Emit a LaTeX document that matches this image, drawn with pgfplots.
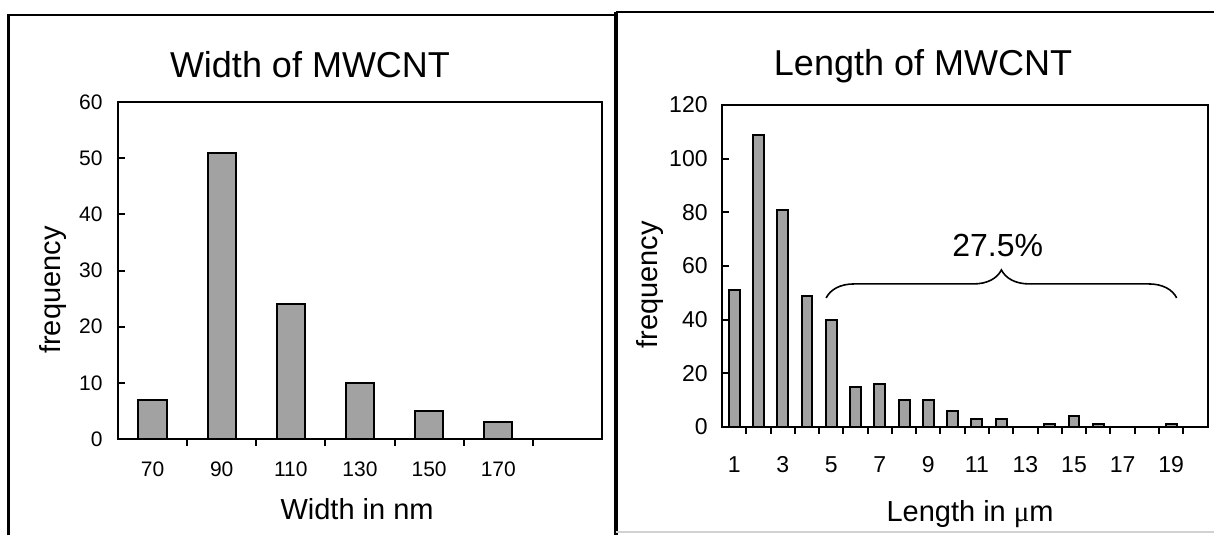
\documentclass[border=0pt]{standalone}
\usepackage{fontspec}
\setmainfont{Liberation Sans}
\newfontfamily\symfont{Liberation Serif}
\usepackage{pgfplots}
\pgfplotsset{compat=1.18}
\usetikzlibrary{decorations.pathreplacing}
\definecolor{barfill}{HTML}{A2A2A2}

\pgfplotsset{
  mwcnt/.style={
    scale only axis,
    anchor=south west,
    axis line style={line width=1pt},
    tick align=inside,
    xtick pos=bottom, ytick pos=left,
    tick style={line width=1pt, black},
    major tick length=3.3pt,
    ymin=0,
    /pgf/number format/assume math mode=true,
    ybar,
    ylabel style={anchor=center},
    xlabel style={anchor=base},
    yticklabel style={anchor=east, inner sep=0pt},
    xticklabel style={anchor=base, inner sep=0pt},
    extra x tick style={major tick length=0pt},
    label style={font=\fontsize{14.5}{16}\selectfont},
  },
  bars/.style={draw=black, line width=1pt, fill=barfill},
}

\begin{document}
\begin{tikzpicture}
\path[use as bounding box] (0,0) rectangle (607pt,267.5pt);

% panel frames
\draw[line width=1.3pt] (4.25pt,0) -- (4.25pt,260pt) -- (308pt,260pt);
\draw[line width=2.2pt] (308pt,0) -- (308pt,261.5pt);
\draw[line width=1.3pt] (308pt,261.5pt) -- (607pt,261.5pt);
\draw[gray!35, line width=0.6pt] (308pt,1.5pt) -- (607pt,1.5pt);

\node[anchor=base, font=\fontsize{18}{21}\selectfont] at (155pt,228.5pt) {Width of MWCNT};
\node[anchor=base, font=\fontsize{18}{21}\selectfont] at (461.5pt,229.5pt) {Length of MWCNT};

% width histogram
\begin{axis}[mwcnt, at={(59pt,48pt)}, width=242pt, height=168.5pt,
  xmin=-0.5, xmax=6.5, ymax=60, ytick={0,10,...,60},
  xtick={0.5,1.5,...,5.5}, xticklabels={},
  extra x ticks={0,1,2,3,4,5},
  extra x tick labels={70,90,110,130,150,170},
  tick label style={font=\fontsize{10.5}{12}\selectfont},
  xticklabel style={yshift=-18.5pt},
  yticklabel style={xshift=-7.5pt},
  bar width=0.41,
  xlabel={Width in nm}, ylabel={frequency},
  xlabel style={at={(axis description cs:0.494,-0.240)}},
  ylabel style={at={(axis description cs:-0.134,0.442)}},
]
\addplot[bars] coordinates {(0,7) (1,51) (2,24) (3,10) (4,5) (5,3)};
\end{axis}

% length histogram
\begin{axis}[mwcnt, at={(361pt,54pt)}, width=242.75pt, height=161pt,
  xmin=0.5, xmax=20.5, ymax=120, ytick={0,20,...,120},
  xtick={1.5,2.5,...,19.5}, xticklabels={},
  extra x ticks={1,3,...,19},
  tick label style={font=\fontsize{11.5}{13}\selectfont},
  xticklabel style={yshift=-22.5pt},
  yticklabel style={xshift=-7pt},
  bar width=0.45,
  xlabel={Length in {\symfont μ}m}, ylabel={frequency},
  xlabel style={at={(axis description cs:0.511,-0.295)}},
  ylabel style={at={(axis description cs:-0.148,0.441)}},
]
\addplot[bars] coordinates {(1,51) (2,109) (3,81) (4,49) (5,40) (6,15) (7,16)
  (8,10) (9,10) (10,6) (11,3) (12,3) (14,1) (15,4) (16,1) (19,1)};
\draw[decorate, decoration={brace, amplitude=14pt}, line width=0.8pt]
  (axis cs:4.79,48.1) -- (axis cs:19.23,48.1);
\node[anchor=base, font=\fontsize{16}{19}\selectfont] at (axis cs:11.86,63.7) {27.5\%};
\end{axis}
\end{tikzpicture}
\end{document}
